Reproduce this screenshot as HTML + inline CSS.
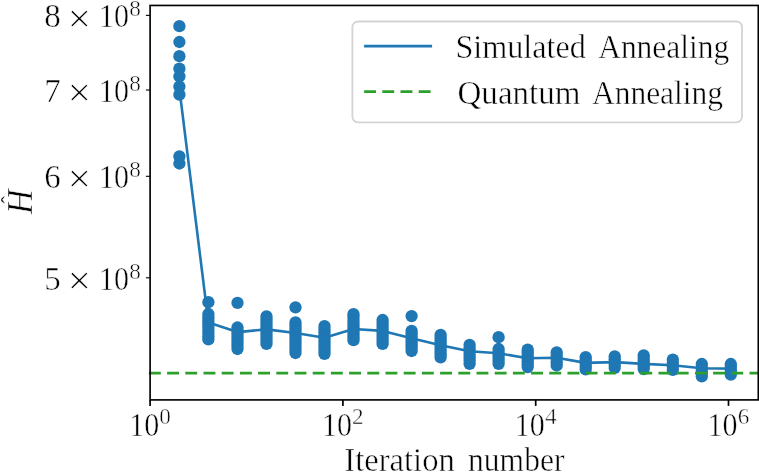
<!DOCTYPE html>
<html lang="en"><head><meta charset="utf-8"><title>Annealing comparison</title>
<style>
html,body{margin:0;padding:0;background:#fff;}
body{width:759px;height:472px;overflow:hidden;}
svg{display:block;}
text{font-family:"Liberation Serif", serif;fill:#000;stroke:#fff;stroke-width:0.5px;paint-order:fill stroke;}
</style></head><body>
<svg width="759" height="472" viewBox="0 0 759 472">
<rect x="0" y="0" width="759" height="472" fill="#fff"/>

<g fill="#1f77b4">
<circle cx="179.4" cy="26.2" r="6.15"/>
<circle cx="179.4" cy="42.0" r="6.15"/>
<circle cx="179.4" cy="56.2" r="6.15"/>
<circle cx="179.4" cy="68.7" r="6.15"/>
<circle cx="179.4" cy="76.3" r="6.15"/>
<circle cx="179.4" cy="86.5" r="6.15"/>
<circle cx="179.4" cy="94.7" r="6.15"/>
<circle cx="179.4" cy="156.3" r="6.15"/>
<circle cx="179.4" cy="163.5" r="6.15"/>
<circle cx="208.4" cy="302.2" r="6.15"/>
<circle cx="208.4" cy="314.0" r="6.15"/>
<circle cx="208.4" cy="317.2" r="6.15"/>
<circle cx="208.4" cy="320.4" r="6.15"/>
<circle cx="208.4" cy="323.5" r="6.15"/>
<circle cx="208.4" cy="326.7" r="6.15"/>
<circle cx="208.4" cy="329.9" r="6.15"/>
<circle cx="208.4" cy="333.0" r="6.15"/>
<circle cx="208.4" cy="336.2" r="6.15"/>
<circle cx="208.4" cy="339.4" r="6.15"/>
<circle cx="237.5" cy="302.9" r="6.15"/>
<circle cx="237.5" cy="327.5" r="6.15"/>
<circle cx="237.5" cy="330.6" r="6.15"/>
<circle cx="237.5" cy="333.6" r="6.15"/>
<circle cx="237.5" cy="336.7" r="6.15"/>
<circle cx="237.5" cy="339.8" r="6.15"/>
<circle cx="237.5" cy="342.9" r="6.15"/>
<circle cx="237.5" cy="345.9" r="6.15"/>
<circle cx="237.5" cy="349.0" r="6.15"/>
<circle cx="266.5" cy="316.4" r="6.15"/>
<circle cx="266.5" cy="319.5" r="6.15"/>
<circle cx="266.5" cy="322.5" r="6.15"/>
<circle cx="266.5" cy="325.6" r="6.15"/>
<circle cx="266.5" cy="328.6" r="6.15"/>
<circle cx="266.5" cy="331.7" r="6.15"/>
<circle cx="266.5" cy="334.7" r="6.15"/>
<circle cx="266.5" cy="337.8" r="6.15"/>
<circle cx="266.5" cy="340.8" r="6.15"/>
<circle cx="266.5" cy="343.9" r="6.15"/>
<circle cx="295.5" cy="307.3" r="6.15"/>
<circle cx="295.5" cy="322.4" r="6.15"/>
<circle cx="295.5" cy="325.5" r="6.15"/>
<circle cx="295.5" cy="328.5" r="6.15"/>
<circle cx="295.5" cy="331.6" r="6.15"/>
<circle cx="295.5" cy="334.6" r="6.15"/>
<circle cx="295.5" cy="337.7" r="6.15"/>
<circle cx="295.5" cy="340.8" r="6.15"/>
<circle cx="295.5" cy="343.8" r="6.15"/>
<circle cx="295.5" cy="346.9" r="6.15"/>
<circle cx="295.5" cy="349.9" r="6.15"/>
<circle cx="295.5" cy="353.0" r="6.15"/>
<circle cx="324.5" cy="326.1" r="6.15"/>
<circle cx="324.5" cy="329.2" r="6.15"/>
<circle cx="324.5" cy="332.3" r="6.15"/>
<circle cx="324.5" cy="335.3" r="6.15"/>
<circle cx="324.5" cy="338.4" r="6.15"/>
<circle cx="324.5" cy="341.5" r="6.15"/>
<circle cx="324.5" cy="344.6" r="6.15"/>
<circle cx="324.5" cy="347.6" r="6.15"/>
<circle cx="324.5" cy="350.7" r="6.15"/>
<circle cx="324.5" cy="353.8" r="6.15"/>
<circle cx="353.5" cy="314.2" r="6.15"/>
<circle cx="353.5" cy="317.1" r="6.15"/>
<circle cx="353.5" cy="320.0" r="6.15"/>
<circle cx="353.5" cy="322.9" r="6.15"/>
<circle cx="353.5" cy="325.8" r="6.15"/>
<circle cx="353.5" cy="328.6" r="6.15"/>
<circle cx="353.5" cy="331.5" r="6.15"/>
<circle cx="353.5" cy="334.4" r="6.15"/>
<circle cx="353.5" cy="337.3" r="6.15"/>
<circle cx="353.5" cy="340.2" r="6.15"/>
<circle cx="382.6" cy="320.0" r="6.15"/>
<circle cx="382.6" cy="323.0" r="6.15"/>
<circle cx="382.6" cy="326.0" r="6.15"/>
<circle cx="382.6" cy="329.0" r="6.15"/>
<circle cx="382.6" cy="331.9" r="6.15"/>
<circle cx="382.6" cy="334.9" r="6.15"/>
<circle cx="382.6" cy="337.9" r="6.15"/>
<circle cx="382.6" cy="340.9" r="6.15"/>
<circle cx="382.6" cy="343.9" r="6.15"/>
<circle cx="411.6" cy="316.1" r="6.15"/>
<circle cx="411.6" cy="330.8" r="6.15"/>
<circle cx="411.6" cy="333.7" r="6.15"/>
<circle cx="411.6" cy="336.6" r="6.15"/>
<circle cx="411.6" cy="339.5" r="6.15"/>
<circle cx="411.6" cy="342.3" r="6.15"/>
<circle cx="411.6" cy="345.2" r="6.15"/>
<circle cx="411.6" cy="348.1" r="6.15"/>
<circle cx="411.6" cy="351.0" r="6.15"/>
<circle cx="440.6" cy="334.8" r="6.15"/>
<circle cx="440.6" cy="337.6" r="6.15"/>
<circle cx="440.6" cy="340.4" r="6.15"/>
<circle cx="440.6" cy="343.3" r="6.15"/>
<circle cx="440.6" cy="346.1" r="6.15"/>
<circle cx="440.6" cy="348.9" r="6.15"/>
<circle cx="440.6" cy="351.8" r="6.15"/>
<circle cx="440.6" cy="354.6" r="6.15"/>
<circle cx="440.6" cy="357.4" r="6.15"/>
<circle cx="469.6" cy="344.8" r="6.15"/>
<circle cx="469.6" cy="348.0" r="6.15"/>
<circle cx="469.6" cy="351.1" r="6.15"/>
<circle cx="469.6" cy="354.3" r="6.15"/>
<circle cx="469.6" cy="357.5" r="6.15"/>
<circle cx="469.6" cy="360.6" r="6.15"/>
<circle cx="469.6" cy="363.8" r="6.15"/>
<circle cx="498.6" cy="337.2" r="6.15"/>
<circle cx="498.6" cy="349.0" r="6.15"/>
<circle cx="498.6" cy="352.0" r="6.15"/>
<circle cx="498.6" cy="354.9" r="6.15"/>
<circle cx="498.6" cy="357.9" r="6.15"/>
<circle cx="498.6" cy="360.8" r="6.15"/>
<circle cx="498.6" cy="363.8" r="6.15"/>
<circle cx="527.7" cy="349.7" r="6.15"/>
<circle cx="527.7" cy="352.6" r="6.15"/>
<circle cx="527.7" cy="355.5" r="6.15"/>
<circle cx="527.7" cy="358.4" r="6.15"/>
<circle cx="527.7" cy="361.3" r="6.15"/>
<circle cx="527.7" cy="364.2" r="6.15"/>
<circle cx="527.7" cy="367.1" r="6.15"/>
<circle cx="556.7" cy="352.4" r="6.15"/>
<circle cx="556.7" cy="355.7" r="6.15"/>
<circle cx="556.7" cy="358.9" r="6.15"/>
<circle cx="556.7" cy="362.2" r="6.15"/>
<circle cx="556.7" cy="365.5" r="6.15"/>
<circle cx="585.7" cy="357.2" r="6.15"/>
<circle cx="585.7" cy="360.2" r="6.15"/>
<circle cx="585.7" cy="363.3" r="6.15"/>
<circle cx="585.7" cy="366.3" r="6.15"/>
<circle cx="585.7" cy="369.4" r="6.15"/>
<circle cx="614.7" cy="356.4" r="6.15"/>
<circle cx="614.7" cy="359.3" r="6.15"/>
<circle cx="614.7" cy="362.1" r="6.15"/>
<circle cx="614.7" cy="365.0" r="6.15"/>
<circle cx="614.7" cy="367.9" r="6.15"/>
<circle cx="643.7" cy="355.3" r="6.15"/>
<circle cx="643.7" cy="358.1" r="6.15"/>
<circle cx="643.7" cy="360.8" r="6.15"/>
<circle cx="643.7" cy="363.6" r="6.15"/>
<circle cx="643.7" cy="366.3" r="6.15"/>
<circle cx="643.7" cy="369.1" r="6.15"/>
<circle cx="672.8" cy="359.7" r="6.15"/>
<circle cx="672.8" cy="363.1" r="6.15"/>
<circle cx="672.8" cy="366.5" r="6.15"/>
<circle cx="672.8" cy="369.9" r="6.15"/>
<circle cx="701.8" cy="364.0" r="6.15"/>
<circle cx="701.8" cy="367.1" r="6.15"/>
<circle cx="701.8" cy="370.1" r="6.15"/>
<circle cx="701.8" cy="373.2" r="6.15"/>
<circle cx="701.8" cy="376.3" r="6.15"/>
<circle cx="730.8" cy="364.0" r="6.15"/>
<circle cx="730.8" cy="366.7" r="6.15"/>
<circle cx="730.8" cy="369.4" r="6.15"/>
<circle cx="730.8" cy="372.0" r="6.15"/>
<circle cx="730.8" cy="374.7" r="6.15"/>
</g>
<polyline points="179.4,88.8 208.4,322.5 237.5,332.1 266.5,329.4 295.5,333.0 324.5,337.7 353.5,329.0 382.6,330.9 411.6,338.3 440.6,345.3 469.6,351.2 498.6,353.3 527.7,358.2 556.7,357.7 585.7,362.9 614.7,362.1 643.7,363.9 672.8,365.3 701.8,368.2 730.8,368.6" fill="none" stroke="#1f77b4" stroke-width="2.6" stroke-linejoin="round" stroke-linecap="butt"/>
<line x1="148.9" y1="373.1" x2="758.3" y2="373.1" stroke="#2ca02c" stroke-width="2.6" stroke-dasharray="11.9 6.3"/>
<rect x="150.1" y="5.45" width="608.20" height="394.45" fill="none" stroke="#000" stroke-width="1.65"/>
<line x1="150.10" y1="399.9" x2="150.10" y2="405.9" stroke="#000" stroke-width="1.7"/>
<line x1="342.90" y1="399.9" x2="342.90" y2="405.9" stroke="#000" stroke-width="1.7"/>
<line x1="535.70" y1="399.9" x2="535.70" y2="405.9" stroke="#000" stroke-width="1.7"/>
<line x1="728.50" y1="399.9" x2="728.50" y2="405.9" stroke="#000" stroke-width="1.7"/>
<line x1="145.90" y1="15.36" x2="150.1" y2="15.36" stroke="#000" stroke-width="1.1"/>
<line x1="145.90" y1="90.0" x2="150.1" y2="90.0" stroke="#000" stroke-width="1.1"/>
<line x1="145.90" y1="176.3" x2="150.1" y2="176.3" stroke="#000" stroke-width="1.1"/>
<line x1="145.90" y1="277.8" x2="150.1" y2="277.8" stroke="#000" stroke-width="1.1"/>
<text font-size="33"><tspan x="44.2" y="27.41">8</tspan> <tspan x="67.74" y="31.51" font-size="41">×</tspan> <tspan x="99.0" y="27.41" textLength="30" lengthAdjust="spacingAndGlyphs">10</tspan><tspan x="129.3" y="16.31" font-size="23.2">8</tspan></text>
<text font-size="33"><tspan x="44.2" y="102.05">7</tspan> <tspan x="67.74" y="106.15" font-size="41">×</tspan> <tspan x="99.0" y="102.05" textLength="30" lengthAdjust="spacingAndGlyphs">10</tspan><tspan x="129.3" y="90.95" font-size="23.2">8</tspan></text>
<text font-size="33"><tspan x="44.2" y="188.35">6</tspan> <tspan x="67.74" y="192.45" font-size="41">×</tspan> <tspan x="99.0" y="188.35" textLength="30" lengthAdjust="spacingAndGlyphs">10</tspan><tspan x="129.3" y="177.25" font-size="23.2">8</tspan></text>
<text font-size="33"><tspan x="44.2" y="289.85">5</tspan> <tspan x="67.74" y="293.95" font-size="41">×</tspan> <tspan x="99.0" y="289.85" textLength="30" lengthAdjust="spacingAndGlyphs">10</tspan><tspan x="129.3" y="278.75" font-size="23.2">8</tspan></text>
<text font-size="33"><tspan x="129.20" y="436.1" textLength="30" lengthAdjust="spacingAndGlyphs">10</tspan><tspan x="159.30" y="423.9" font-size="23.2">0</tspan></text>
<text font-size="33"><tspan x="322.00" y="436.1" textLength="30" lengthAdjust="spacingAndGlyphs">10</tspan><tspan x="352.10" y="423.9" font-size="23.2">2</tspan></text>
<text font-size="33"><tspan x="514.80" y="436.1" textLength="30" lengthAdjust="spacingAndGlyphs">10</tspan><tspan x="544.90" y="423.9" font-size="23.2">4</tspan></text>
<text font-size="33"><tspan x="707.60" y="436.1" textLength="30" lengthAdjust="spacingAndGlyphs">10</tspan><tspan x="737.70" y="423.9" font-size="23.2">6</tspan></text>
<text font-size="33"><tspan x="344.3" y="471" textLength="110.5" lengthAdjust="spacingAndGlyphs">Iteration</tspan> <tspan x="468.0" y="471" textLength="96.5" lengthAdjust="spacingAndGlyphs">number</tspan></text>
<text transform="translate(31.5,214.3) rotate(-90) scale(1,1.05)" font-size="34.5" font-style="italic">H</text>
<text transform="translate(19.2,204.0) rotate(-90)" font-size="25">ˆ</text>
<rect x="352.4" y="21.5" width="389.6" height="100.8" rx="5.5" ry="5.5" fill="#fff" fill-opacity="0.8" stroke="#d4d4d4" stroke-width="1.8"/>
<line x1="364.1" y1="46.1" x2="432.1" y2="46.1" stroke="#1f77b4" stroke-width="2.6"/>
<line x1="364.1" y1="91.6" x2="432.1" y2="91.6" stroke="#2ca02c" stroke-width="2.6" stroke-dasharray="11.9 6.3"/>
<text font-size="33"><tspan x="455.4" y="58.1" textLength="130.5" lengthAdjust="spacingAndGlyphs">Simulated</tspan> <tspan x="598.2" y="58.1" textLength="131" lengthAdjust="spacingAndGlyphs">Annealing</tspan></text>
<text font-size="33"><tspan x="457.5" y="103.5" textLength="123" lengthAdjust="spacingAndGlyphs">Quantum</tspan> <tspan x="592" y="103.5" textLength="131" lengthAdjust="spacingAndGlyphs">Annealing</tspan></text>
</svg></body></html>
